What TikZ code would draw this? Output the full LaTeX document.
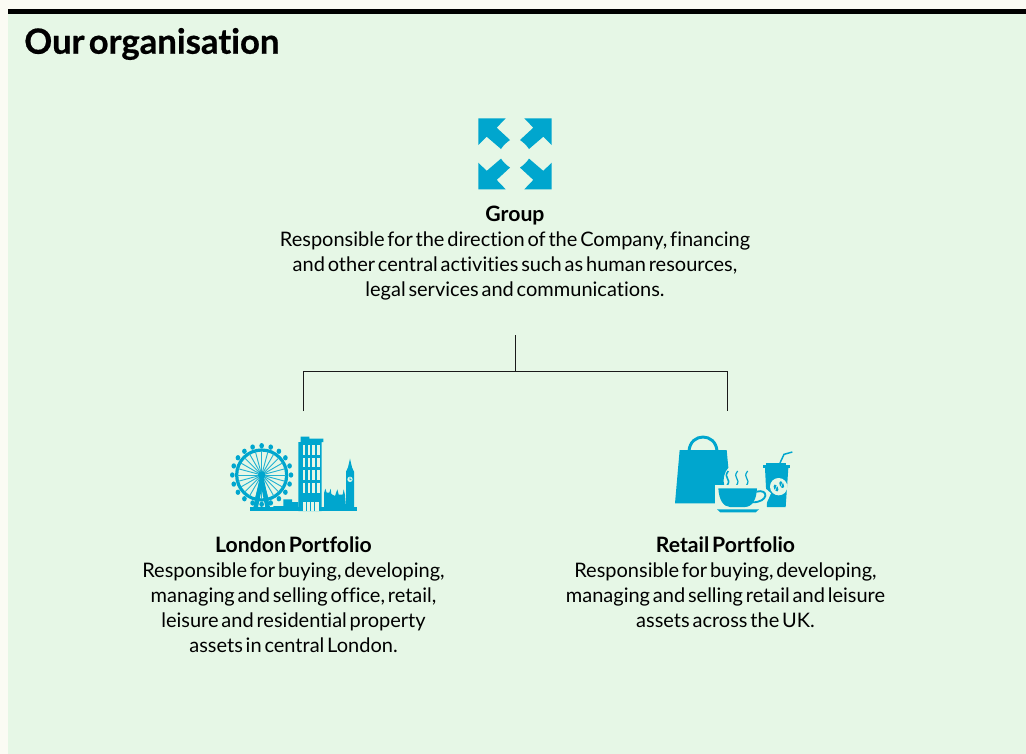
\documentclass[tikz,border=0pt]{standalone}
\usepackage{fontspec}
\setmainfont[WordSpace=0.55,Ligatures=NoCommon]{Lato}
\newfontfamily\headfont[WordSpace=0.5,Ligatures=NoCommon,BoldFeatures={FakeBold=0.6}]{Lato}
\definecolor{pagebg}{HTML}{FBFBF4}
\definecolor{panel}{HTML}{E6F7E6}
\definecolor{icon}{HTML}{00A6CE}
\definecolor{linecol}{HTML}{1A1A1A}
\newcommand{\wheelpods}{%
  \foreach \a in {0,18,...,342}{\fill[icon] (125,135)++(\a:88) ellipse (7 and 8);}
}
\newcommand{\lbl}[1]{{\fontsize{15.9pt}{18.75pt}\selectfont\bfseries #1}}
\tikzset{
  title/.style={font=\fontsize{26pt}{30pt}\headfont\bfseries,anchor=west,inner sep=0pt},
  body/.style={font=\fontsize{15pt}{18.75pt}\selectfont,align=center,anchor=north,inner sep=0pt,text=black},
  connector/.style={draw=linecol,line width=0.75pt},
  px/.style={x=0.25pt,y=-0.25pt}
}
\begin{document}
\begin{tikzpicture}[x=0.75pt,y=-0.75pt]
\useasboundingbox (0,0) rectangle (1026,754);
\fill[pagebg] (0,0) rectangle (1026,754);
\fill[panel] (8,14) rectangle (1026,754);
\fill[black] (8,9) rectangle (1026,14);
\node[title] (heading) at (24,44) {Our organisation};

% group icon
\begin{scope}[shift={(515,153.8)}]
\foreach \sx/\sy in {1/1,-1/1,1/-1,-1/-1}{
  \fill[icon,xscale=\sx,yscale=\sy] (36.7,35.5) -- (9.3,35.5) -- (18.3,26.1) -- (5,13.8) .. controls (9,11) and (12,8) .. (14,4.8) -- (28.3,17.1) -- (36.7,8.8) -- cycle;
}
\end{scope}

\node[body] (group) at (515,206) {\lbl{Group}\\Responsible for the direction of the Company, financing\\and other central activities such as human resources,\\legal services and communications.};
\node[body] (london) at (293.5,536) {\lbl{London Portfolio}\\Responsible for buying, developing,\\managing and selling office, retail,\\leisure and residential property\\assets in central London.};
\node[body] (retail) at (725.5,536) {\lbl{Retail Portfolio}\\Responsible for buying, developing,\\managing and selling retail and leisure\\assets across the UK.};

% connectors
\coordinate (top) at (515,335);
\coordinate (join) at (515,371);
\coordinate (lefttop) at (303,371);
\coordinate (leftend) at (303,411);
\coordinate (righttop) at (727,371);
\coordinate (rightend) at (727,411);
\draw[connector] (top) -- (join);
\draw[connector] (leftend) -- (lefttop) -- (righttop) -- (rightend);

% London icon
\begin{scope}[shift={(220,430)},px]
\draw[icon,line width=2.4pt] (125,135) circle (75);
\foreach \a in {0,15,...,345}{\draw[icon!85!panel,line width=0.7pt] (125,135) -- ++(\a:73);}
\wheelpods
\fill[icon] (125,135) circle (11);
\fill[icon] (121,135) -- (129,135) -- (150,232) -- (136,232) -- (125,178) -- (114,232) -- (100,232) -- cycle;
% ground
\fill[icon] (90,232) -- (410,232) -- (410,243) -- (90,243) -- cycle;
\fill[icon] (160,232) rectangle (235,228)
  (190,232) rectangle (216,208) (216,232) rectangle (235,216);
% tower block
\fill[icon] (235,36) -- (242,36) -- (242,20) -- (268,20) -- (268,26) -- (310,26) -- (310,36) -- (305,36) -- (305,243) -- (235,243) -- cycle;
\foreach \cx in {248,263,277,291}{\foreach \cy in {46,83,121,160}{
  \fill[panel] (\cx,\cy) rectangle ++(8,29);}}
\fill[panel] (248,216) rectangle (296,243);
\foreach \cx in {258,270,283}{\fill[icon] (\cx,216) rectangle ++(2.5,27);}
% parliament
\fill[icon] (312,232) -- (312,190) -- (316,176) -- (320,188) -- (328,188) -- (332,176) -- (334,192) -- (345,198) -- (352,178) -- (356,194) -- (368,194) -- (371,178) -- (375,195) -- (378,232) -- cycle;
% big ben
\fill[icon] (378,240) -- (378,125) -- (384,112) -- (390,86) -- (396,112) -- (402,125) -- (402,240) -- cycle;
\fill[panel] (390,148) circle (8);
\fill[icon] (389,142) rectangle (391,150) (390,148) rectangle (395,150);
\end{scope}

% Retail icon
\begin{scope}[shift={(665,425)},px]
% bag
\fill[icon] (44,75) -- (185,75) -- (190,128) .. controls (178,140) and (172,165) .. (178,182) -- (158,182) -- (165,235) -- (30,235) -- cycle;
\draw[icon,line width=2.2pt] (72,78) .. controls (76,22) and (152,22) .. (156,78);
% takeaway cup
\fill[icon] (300,129) -- (370,129) -- (362,246) -- (306,246) -- cycle;
\fill[icon] (293,120) -- (374,120) -- (374,129) -- (293,129) -- cycle;
\fill[icon] (304,114) -- (364,114) -- (364,120) -- (304,120) -- cycle;
\fill[panel] (341,185) circle (26);
\fill[icon,rotate around={25:(333,189)}] (333,189) ellipse (6 and 11);
\fill[icon,rotate around={25:(350,179)}] (350,179) ellipse (6 and 11);
\draw[panel,line width=0.4pt] (329,199) -- (337,179) (346,189) -- (354,169);
\draw[icon,line width=1.1pt] (345,114) -- (357,88) -- (382,81);
% steam
\foreach \dx/\w in {0/1.2,28/0.9,58/0.9}{
  \draw[icon,line width=\w pt] (190+\dx,138) .. controls (172+\dx,160) and (202+\dx,160) .. (186+\dx,182);
}
% cup with halo
\fill[panel] (150,180) -- (290,180) -- (318,205) -- (302,240) -- (270,252) -- (150,252) -- cycle;
\fill[icon] (160,190) -- (276,190) .. controls (274,225) and (262,245) .. (240,246) -- (195,246) .. controls (175,245) and (162,225) .. (160,190) -- cycle;
\draw[icon,line width=1.4pt] (274,200) .. controls (312,190) and (312,232) .. (262,232);
\fill[icon] (156,253) -- (282,253) -- (272,262) -- (166,262) -- cycle;
\end{scope}
\end{tikzpicture}
\end{document}
